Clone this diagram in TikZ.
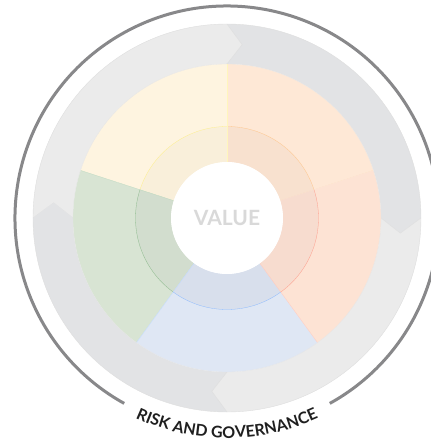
\documentclass[tikz,border=0pt]{standalone}
\usepackage{fontspec}
\setsansfont{Lato}
\usetikzlibrary{decorations.text}
\definecolor{grayA}{HTML}{EBEBEB}
\definecolor{grayB}{HTML}{E2E3E5}
\definecolor{yelO}{HTML}{FEF4E0}
\definecolor{yelI}{HTML}{F9EFDA}
\definecolor{orgO}{HTML}{FEE8D6}
\definecolor{orgI}{HTML}{F8E1CF}
\definecolor{pchO}{HTML}{FDE3D4}
\definecolor{pchI}{HTML}{F7DCCF}
\definecolor{bluO}{HTML}{DFE7F4}
\definecolor{bluI}{HTML}{D8DFEC}
\definecolor{grnO}{HTML}{D8E4D3}
\definecolor{grnI}{HTML}{D2DDCE}
\definecolor{rimgray}{HTML}{88888A}
\begin{document}
\begin{tikzpicture}[x=1pt, y=1pt, font=\sffamily\bfseries,
    arrowseg/.style={draw=black!13, line width=0.4pt},
    sector/.style={line width=0.3pt},
    rim/.style={draw=rimgray, line width=3pt},
    valuetext/.style={text=black!15, font=\sffamily\bfseries\fontsize{21}{21}\selectfont}]
  \useasboundingbox (-227,-224) rectangle (204,218);
  \clip (-227,-224) rectangle (204,218);
  % circular arrows of the grey ring
  \foreach \t/\c in {180/grayA, 90/grayB, 0/grayA, -90/grayB} {
    \pgfmathsetmacro\h{\t-90}
    \fill[\c] (\t:194) arc[start angle=\t, end angle=\h, radius=194] -- (\h-5:174)
      -- (\h:154) arc[start angle=\h, end angle=\t, radius=154] -- (\t-5:174) -- cycle;
    \draw[arrowseg] (\t:194) -- (\t-5:174) -- (\t:154);
  }
  \draw[arrowseg] (0,0) circle[radius=194];
  % five coloured sectors
  \foreach \a/\b/\co/\ci/\cl in {18/90/orgO/orgI/orange, 90/162/yelO/yelI/yellow!80!orange,
      162/234/grnO/grnI/green!40!black, 234/306/bluO/bluI/blue!60!cyan, 306/378/pchO/pchI/red!70!orange} {
    \fill[\co] (\a:56) arc[start angle=\a, end angle=\b, radius=56] -- (\b:154)
      arc[start angle=\b, end angle=\a, radius=154] -- cycle;
    \fill[\ci] (\a:56) arc[start angle=\a, end angle=\b, radius=56] -- (\b:91.5)
      arc[start angle=\b, end angle=\a, radius=91.5] -- cycle;
    \draw[sector, draw=\cl!25] (\a:56) -- (\a:154);
    \draw[sector, draw=\cl!45] (\a:91.5) arc[start angle=\a, end angle=\b, radius=91.5];
    \draw[sector, draw=black!10] (\a:154) arc[start angle=\a, end angle=\b, radius=154];
  }
  \fill[white] (0,0) circle[radius=56];
  \node[valuetext] (value) at (0,0) {VALUE};
  % outer rim and its label
  \draw[rim] (-61:212) arc[start angle=-61, end angle=241, radius=212];
  \path[decorate, decoration={text along path, text align=center,
      text={|\sffamily\bfseries\fontsize{16}{16}\selectfont\color{black!88}|RISK AND GOVERNANCE}}]
    (240:220) arc[start angle=240, end angle=300, radius=220];
\end{tikzpicture}
\end{document}
